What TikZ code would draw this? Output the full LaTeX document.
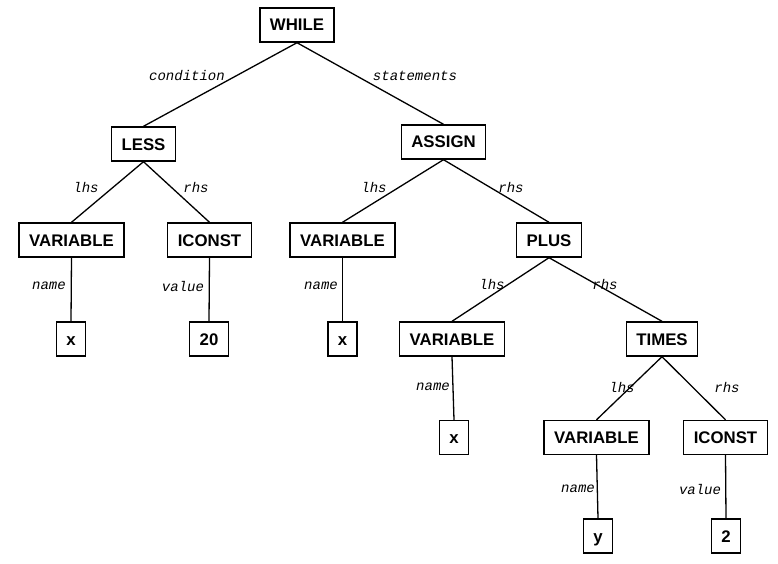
\documentclass[tikz,border=0pt]{standalone}
\usepackage{fontspec}
\setmainfont{Liberation Sans}
\newfontfamily\lblfont{Liberation Mono}
\begin{document}
\begin{tikzpicture}[x=1pt,y=-1pt,
  tnode/.style={draw, line width=1.4pt, font=\fontsize{16.8}{16.8}\selectfont\bfseries,
    inner xsep=10pt, inner ysep=0pt, minimum height=34pt, text height=12pt, text depth=0pt},
  elabel/.style={font=\lblfont\itshape\fontsize{14}{14}\selectfont, inner sep=0pt},
  edge/.style={line width=1.3pt}]
\useasboundingbox (0,0) rectangle (778,564);
% nodes
\node[tnode] (while) at (297,25) {WHILE};
\node[tnode] (less) at (143.5,144) {LESS};
\node[tnode] (assign) at (443.5,142) {ASSIGN};
\node[tnode] (var1) at (71.5,240) {VARIABLE};
\node[tnode] (iconst1) at (209.5,240) {ICONST};
\node[tnode] (var2) at (342.5,240) {VARIABLE};
\node[tnode] (plus) at (549,240) {PLUS};
\node[tnode] (x1) at (71,339) {x};
\node[tnode] (c20) at (209,339) {20};
\node[tnode] (x2) at (342.5,339) {x};
\node[tnode] (var3) at (452,339) {VARIABLE};
\node[tnode] (times) at (662,339) {TIMES};
\node[tnode] (x3) at (454,437.5) {x};
\node[tnode] (var4) at (596.5,437.5) {VARIABLE};
\node[tnode] (iconst2) at (725.5,437.5) {ICONST};
\node[tnode] (y) at (598,536) {y};
\node[tnode] (c2) at (726,536) {2};
% edges
\draw[edge] (while.south) -- (less.north);
\draw[edge] (while.south) -- (assign.north);
\draw[edge] (less.south) -- (var1.north);
\draw[edge] (less.south) -- (iconst1.north);
\draw[edge] (assign.south) -- (var2.north);
\draw[edge] (assign.south) -- (plus.north);
\draw[edge] (var1.south) -- (x1.north);
\draw[edge] (iconst1.south) -- (c20.north);
\draw[edge] (var2.south) -- (x2.north);
\draw[edge] (plus.south) -- (var3.north);
\draw[edge] (plus.south) -- (times.north);
\draw[edge] (var3.south) -- (x3.north);
\draw[edge] (times.south) -- (var4.north);
\draw[edge] (times.south) -- (iconst2.north);
\draw[edge] (var4.south) -- (y.north);
\draw[edge] (iconst2.south) -- (c2.north);
% edge labels
\node[elabel] (l1) at (187,76) {condition};
\node[elabel] (l2) at (415,76) {statements};
\node[elabel] (l3) at (86,187) {lhs};
\node[elabel] (l4) at (196,187) {rhs};
\node[elabel] (l5) at (374,187) {lhs};
\node[elabel] (l6) at (511,187) {rhs};
\node[elabel] (l7) at (49,286) {name};
\node[elabel] (l8) at (183,286) {value};
\node[elabel] (l9) at (321,286) {name};
\node[elabel] (l10) at (492,284) {lhs};
\node[elabel] (l11) at (605,284) {rhs};
\node[elabel] (l12) at (433,387) {name};
\node[elabel] (l13) at (622,387) {lhs};
\node[elabel] (l14) at (727,387) {rhs};
\node[elabel] (l15) at (578,489) {name};
\node[elabel] (l16) at (700,489) {value};
\end{tikzpicture}
\end{document}
